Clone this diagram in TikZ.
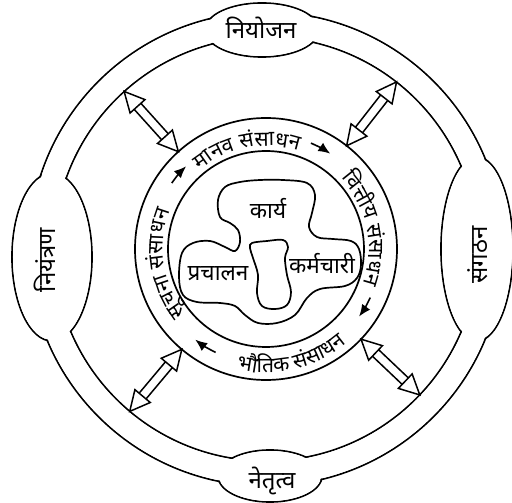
\documentclass[tikz,border=0pt]{standalone}
\usepackage{fontspec}
\setmainfont[Script=Devanagari]{Noto Sans}
\usetikzlibrary{arrows.meta,calc,decorations.text}

\newcommand\ringfont{\fontsize{21}{21}\selectfont}

\tikzset{
  ring/.style={line width=1.7pt},
  lbl/.style={font=\fontsize{24}{24}\selectfont, inner sep=0pt},
  inlbl/.style={font=\fontsize{22.5}{22.5}\selectfont, inner sep=0pt},
  flow/.style={line width=1.6pt, -{Latex[length=12pt,width=10pt]}},
  dblarrow/.style={line width=1.5pt, line join=miter, to path={
    (\tikztostart) -- ($(\tikztostart)!20pt!(\tikztotarget)!10pt!90:(\tikztotarget)$)
      -- ($(\tikztostart)!20pt!(\tikztotarget)!10pt!-90:(\tikztotarget)$) -- cycle
    (\tikztotarget) -- ($(\tikztotarget)!20pt!(\tikztostart)!10pt!90:(\tikztostart)$)
      -- ($(\tikztotarget)!20pt!(\tikztostart)!10pt!-90:(\tikztostart)$) -- cycle
    ($(\tikztostart)!20pt!(\tikztotarget)!4.5pt!90:(\tikztotarget)$)
      -- ($(\tikztotarget)!20pt!(\tikztostart)!4.5pt!-90:(\tikztostart)$)
    ($(\tikztostart)!20pt!(\tikztotarget)!4.5pt!-90:(\tikztotarget)$)
      -- ($(\tikztotarget)!20pt!(\tikztostart)!4.5pt!90:(\tikztostart)$)
  }},
}

\begin{document}
\begin{tikzpicture}[x=1pt,y=1pt]
  \useasboundingbox (-266,-254) rectangle (246,249);

  % outer ring with the four bulges
  \draw[ring] (0,0) circle (237) (0,0) circle (212);
  \draw[ring] (-4,219) ellipse (57 and 27);
  \draw[ring] (4,-227) ellipse (52 and 26);
  \draw[ring] (-214,-8) ellipse (40 and 84);
  \draw[ring] (211,0) ellipse (36 and 92);
  \fill[white,even odd rule] (0,0) circle (236) (0,0) circle (213);
  \fill[white] (-4,219) ellipse (56 and 26);
  \fill[white] (4,-227) ellipse (51 and 25);
  \fill[white] (-214,-8) ellipse (39 and 83);
  \fill[white] (211,0) ellipse (35 and 91);

  \node[lbl] (niyojan) at (-5,221) {नियोजन};
  \node[lbl,rotate=90] (niyantran) at (-221,-11) {नियंत्रण};
  \node[lbl,rotate=90] (sangathan) at (212,-6) {संगठन};
  \node[lbl] (netritva) at (6,-232) {नेतृत्व};

  % resources ring
  \draw[ring] (0,0) circle (131) (0,0) circle (98);
  \path[decorate,decoration={text along path,text align=center,
    text={|\ringfont|{मा}{न}{व} {सं}{सा}{ध}{न}}}]
    (146:103) arc[start angle=146,end angle=56,radius=103];
  \path[decorate,decoration={text along path,text align=center,
    text={|\ringfont|{वि}{त्ती}{य} {सं}{सा}{ध}{न}}}]
    (58:103) arc[start angle=58,end angle=-34,radius=103];
  \path[decorate,decoration={text along path,text align=center,
    text={|\ringfont|{सू}{च}{ना} {सं}{सा}{ध}{न}}}]
    (236:103) arc[start angle=236,end angle=141,radius=103];
  \path[decorate,decoration={text along path,text align=center,
    text={|\ringfont|{भौ}{ति}{क} {सं}{सा}{ध}{न}}}]
    (-124:124) arc[start angle=-124,end angle=-29,radius=124];

  \draw[flow] (67:115) arc[start angle=67,end angle=56,radius=115];
  \draw[flow] (-25:115) arc[start angle=-25,end angle=-36,radius=115];
  \draw[flow] (-116:115) arc[start angle=-116,end angle=-128,radius=115];
  \draw[flow] (145:115) arc[start angle=145,end angle=134,radius=115];

  % links between the rings
  \foreach \a/\n in {132/nw,52/ne,-43.5/se,-130/sw}{
    \coordinate (\n-in) at (\a:131);
    \coordinate (\n-out) at (\a:212);
    \draw[dblarrow] (\n-in) to (\n-out);
  }

  % centre blob
  \draw[ring] plot[smooth cycle,tension=0.6] coordinates {
    (-46,32) (-48,49) (-41,62) (-26,67) (-6,69) (17,69) (41,66) (49,54)
    (46,36) (43,22) (51,12) (67,10) (85,8) (93,0) (95,-16) (91,-29)
    (79,-37) (54,-40) (41,-49) (29,-66) (11,-74) (-8,-74) (-21,-66)
    (-31,-57) (-46,-54) (-69,-53) (-83,-46) (-87,-28) (-84,-4) (-73,6)
    (-56,8) (-41,2) (-31,-2) (-26,7) (-28,19) (-36,26)};
  \draw[ring] plot[smooth cycle,tension=0.6] coordinates {
    (-14,6) (1,8) (17,9) (22,2) (19,-9) (21,-26) (25,-43) (21,-56)
    (9,-60) (-4,-57) (-9,-44) (-8,-26) (-13,-9) (-16,1)};

  \node[inlbl] (karya) at (2,41) {कार्य};
  \node[inlbl] (prachalan) at (-48,-25) {प्रचालन};
  \node[inlbl] (karmachari) at (56,-15) {कर्मचारी};
\end{tikzpicture}
\end{document}
